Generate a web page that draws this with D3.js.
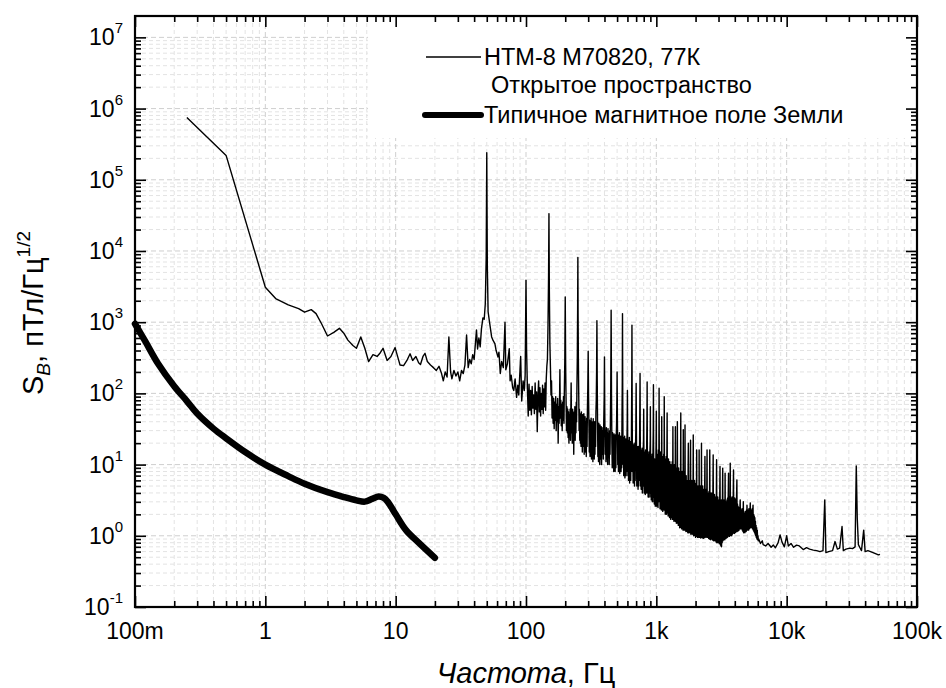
<!DOCTYPE html>
<html>
<head>
<meta charset="utf-8">
<title>Спектр шума НТМ-8</title>
<script src="https://cdn.jsdelivr.net/npm/d3@7"></script>
<style>
  body { margin: 0; background: #fff; }
  svg text { font-family: "Liberation Sans", Arial, sans-serif; fill: #000; }
</style>
</head>
<body>
<div id="chart"></div>
<script>
// --- data: [frequency Hz, S_B pT/Hz^1/2] ---
var htmLow = [
  [0.25, 7.5e5], [0.5, 2.2e5], [1.0, 3.1e3], [1.2, 2.15e3], [1.5, 1.75e3], [1.8, 1.55e3],
  [2.0, 1.38e3], [2.25, 1.5e3], [2.45, 1.32e3], [2.7, 950], [3.0, 640], [3.35, 720],
  [3.7, 820], [4.0, 700], [4.3, 560], [4.7, 470], [5.0, 430], [5.4, 620], [5.8, 430],
  [6.2, 280], [6.7, 350], [7.2, 330], [7.6, 370], [8.0, 430], [8.6, 290], [9.2, 330],
  [9.9, 440], [10.5, 300], [10.8, 250], [11.5, 245], [12.2, 290], [12.9, 360], [13.5, 290],
  [14.3, 330], [15.0, 270], [15.5, 255], [16.2, 330], [16.8, 365], [17.5, 280], [18.5, 250],
  [19.5, 230], [20.5, 210], [21.5, 240], [22.5, 190], [23.2, 150], [24.0, 200], [24.8, 170],
  [25.6, 620], [26.4, 200], [27.0, 160], [28.0, 210], [29.0, 175], [30.0, 200], [31.0, 150],
  [32.0, 210], [33.0, 190], [34.0, 250], [35.0, 660], [36.0, 230], [37.0, 300], [38.0, 260],
  [39.0, 350], [40.0, 300], [41.7, 780], [42.5, 420], [43.5, 600], [44.5, 450], [45.5, 800],
  [46.7, 1150], [47.8, 1100], [48.7, 1800], [49.5, 8000], [50.0, 2.4e5], [50.5, 6000],
  [51.2, 1400], [52.5, 1000], [54.5, 620], [56, 550], [57.7, 500], [59, 400], [61, 325],
  [62, 380], [63.5, 190], [65, 280], [67, 230], [69, 1000], [70, 215], [72, 260], [74.4, 425],
  [75.5, 150], [77, 180], [79, 120], [80.6, 110], [82.5, 160], [84.7, 88], [86.5, 130],
  [88, 95], [91, 330], [92.7, 78], [95, 150], [97, 110], [98.5, 180]
];

var htmMains = [
  [100, 3900], [101, 420], [102.5, 120], [104, 48], [105.5, 135], [107, 58], [108.5, 110],
  [110, 50], [111.5, 125], [113, 62], [114.5, 95], [116, 52], [117.5, 140], [119, 60],
  [120.5, 105], [122, 29], [123.5, 90], [125, 150], [126.5, 55], [128, 120], [129.5, 48],
  [131, 100], [132.5, 60], [134, 130], [135.5, 52], [137, 115], [138.5, 65], [140, 140],
  [141.5, 58], [143, 160], [144.5, 240], [146, 300], [147.5, 900], [149, 4500], [150, 33500],
  [151, 3000], [152.5, 500], [154, 230], [155.5, 95], [157, 150], [158.5, 45], [160, 90],
  [161.5, 38], [163, 85], [164.5, 32], [166, 75], [167.5, 42], [169, 90], [170.5, 30],
  [172, 70], [173.5, 40], [175, 85], [176.5, 20], [178, 65], [179.5, 38], [181, 90],
  [182, 215], [183.5, 45], [185, 80], [186.5, 35], [188, 70], [189.5, 30], [191, 75],
  [192.5, 42], [194, 90], [195.5, 38], [197, 120], [198.5, 280], [200, 2260], [201.5, 250],
  [203, 80], [204.5, 30], [206, 65], [207.5, 28], [209, 60], [210.5, 24], [212, 55],
  [213.5, 20], [215, 50], [216.5, 26], [218, 60], [219.5, 22], [221, 65], [222, 140],
  [223.5, 28], [225, 55], [226.5, 20], [228, 60], [229.5, 24], [231, 50], [232.5, 14],
  [234, 55], [235.5, 26], [237, 65], [238.5, 22], [240, 58], [241.5, 28], [243, 75],
  [244.5, 40], [246, 130], [247.5, 300], [249, 1500], [250, 8100], [251, 1200], [252.5, 250],
  [254, 90], [255.5, 30], [257, 60], [258.5, 22], [260, 52], [261.5, 20], [263, 48],
  [264.5, 18], [266, 55], [267.5, 22], [269, 45], [270.5, 15], [272, 50], [273.5, 20],
  [275, 46], [276.5, 18], [278, 52], [279.5, 14], [281, 42], [282.5, 18], [284, 47],
  [286, 15], [288, 40], [290, 13], [292, 45], [294, 18], [296, 60], [298, 120], [300, 390],
  [302, 90], [304, 35], [306, 15], [308, 42], [310, 13], [312, 38], [314, 17], [316, 45],
  [318, 12], [320, 40], [322, 16], [324, 35], [326, 11], [328, 44], [330, 15], [332, 36],
  [334, 12], [336, 40], [338, 14], [340, 38], [342, 18], [344, 55], [346, 80], [348, 200],
  [350, 1050], [352, 150], [354, 40], [356, 13], [358, 35], [360, 11], [362, 38], [364, 14],
  [366, 32], [368, 10], [370, 36], [372, 13], [374, 30], [376, 12], [378, 34], [380, 10],
  [383, 30], [386, 14], [389, 33], [392, 12], [395, 40], [398, 90], [400, 326], [402, 60],
  [405, 14], [408, 30], [411, 11], [414, 33], [417, 12], [420, 28], [423, 10], [426, 32],
  [429, 13], [432, 27], [435, 10], [438, 30], [441, 14], [444, 40], [447, 120], [450, 1470],
  [453, 90], [456, 20], [459, 9], [462, 28], [465, 10], [468, 25], [471, 8], [474, 27],
  [477, 10], [480, 22], [483, 8], [486, 26], [489, 9], [492, 24], [495, 35], [498, 80],
  [500, 200], [503, 40], [506, 10], [509, 26], [512, 8], [515, 24], [518, 9], [521, 28],
  [524, 7.5], [527, 22], [530, 9], [533, 25], [536, 8], [539, 22], [542, 9], [545, 40],
  [548, 150], [550, 1320], [553, 60], [556, 10], [559, 24], [562, 7], [565, 22], [568, 8],
  [571, 25], [574, 6.5], [577, 20], [580, 8], [583, 23], [586, 7], [589, 20], [592, 8],
  [595, 22], [598, 40], [600, 110], [603, 20], [606, 7], [609, 22], [612, 6], [615, 20],
  [618, 7], [621, 24], [624, 5.5], [627, 19], [630, 7], [633, 21], [636, 6], [639, 18],
  [642, 8], [645, 40], [648, 150], [650, 910], [653, 50], [656, 8], [660, 20], [664, 5.5],
  [668, 19], [672, 6], [676, 18], [680, 5], [684, 20], [688, 6], [692, 17], [696, 30],
  [700, 138], [704, 25], [708, 5], [712, 18], [716, 5.5], [720, 16], [724, 4.5], [728, 18],
  [732, 5], [736, 17], [740, 6], [744, 22], [747, 60], [750, 190], [753, 25], [757, 5],
  [761, 16], [765, 4.5], [769, 15], [773, 5], [777, 17], [781, 4], [785, 15], [789, 5],
  [793, 16], [797, 22], [800, 60], [803, 12], [807, 4], [811, 15], [815, 4.5], [819, 14],
  [823, 3.8], [827, 16], [831, 4.5], [835, 14], [839, 4], [843, 18], [847, 40], [850, 145],
  [853, 20], [857, 4], [861, 14], [865, 3.5], [869, 13], [873, 4], [877, 15], [881, 3.5],
  [885, 13], [889, 4], [893, 15], [897, 20], [900, 65], [903, 12], [907, 3.5], [911, 13],
  [915, 3.2], [919, 12], [923, 3.5], [927, 14], [931, 3], [935, 12], [939, 3.5], [943, 16],
  [947, 30], [950, 132], [953, 18], [957, 3], [961, 12], [965, 2.8], [969, 12], [973, 3],
  [977, 11], [981, 2.6], [985, 12], [989, 2.8], [993, 14], [996, 20]
];

var htmHigh = [
  [1000, 56], [1006, 2.6], [1012, 14], [1018, 3.2], [1024, 9], [1030, 2.5], [1036, 16],
  [1043, 3.0], [1050, 118], [1056, 3.5], [1062, 12], [1068, 2.4], [1074, 15], [1080, 2.8],
  [1087, 10], [1093, 2.3], [1100, 47], [1106, 2.6], [1113, 13], [1120, 2.2], [1127, 11],
  [1134, 2.5], [1140, 14], [1145, 2.3], [1150, 90], [1157, 2.4], [1163, 12], [1170, 2.0],
  [1177, 10], [1184, 2.3], [1190, 13], [1197, 2.0], [1203, 9], [1210, 53], [1217, 2.1],
  [1225, 11], [1232, 1.9], [1240, 12], [1248, 2.2], [1255, 9], [1263, 1.8], [1270, 11],
  [1277, 2.0], [1283, 8], [1290, 1.7], [1295, 10], [1300, 1.9], [1308, 9], [1316, 1.8],
  [1324, 11], [1332, 1.7], [1340, 34], [1348, 1.8], [1356, 9], [1364, 1.6], [1372, 10],
  [1380, 1.7], [1388, 8], [1395, 1.6], [1400, 34], [1408, 1.7], [1416, 9], [1424, 1.5],
  [1432, 8], [1440, 1.6], [1450, 40], [1458, 1.5], [1466, 8], [1474, 1.4], [1483, 9],
  [1492, 1.45], [1501, 7], [1510, 1.3], [1519, 8], [1528, 1.35], [1540, 53], [1548, 1.3],
  [1556, 7], [1565, 1.25], [1575, 8], [1584, 1.3], [1594, 6.5], [1603, 1.2], [1610, 31],
  [1618, 1.25], [1627, 7], [1636, 1.2], [1645, 8], [1652, 1.3], [1660, 36], [1668, 1.2],
  [1677, 6], [1686, 1.15], [1695, 7], [1704, 1.2], [1714, 5.5], [1724, 1.15], [1734, 6],
  [1744, 1.1], [1752, 7], [1760, 20], [1770, 1.1], [1780, 6], [1790, 1.15], [1800, 5],
  [1810, 1.1], [1820, 6.5], [1830, 22], [1840, 1.05], [1851, 5.5], [1862, 1.1], [1873, 6],
  [1884, 1.05], [1895, 5], [1907, 1.1], [1920, 26], [1930, 1.0], [1942, 5], [1953, 1.05],
  [1965, 6], [1977, 1.0], [1989, 4.5], [2001, 0.95], [2013, 5.5], [2025, 1.0], [2040, 16],
  [2050, 0.98], [2062, 4.5], [2074, 0.95], [2087, 5], [2099, 1.0], [2112, 4], [2124, 0.95],
  [2130, 16], [2140, 0.97], [2150, 4.5], [2163, 0.95], [2176, 5], [2189, 0.93], [2202, 4.2],
  [2210, 0.95], [2220, 20], [2230, 0.95], [2242, 4], [2255, 0.93], [2268, 5], [2282, 0.95],
  [2296, 4], [2310, 0.92], [2324, 4.5], [2338, 0.95], [2350, 5], [2360, 13], [2372, 1.0],
  [2385, 4], [2398, 0.95], [2412, 4.5], [2425, 0.97], [2438, 3.8], [2450, 16], [2462, 0.95],
  [2476, 4], [2490, 1.0], [2505, 3.6], [2520, 0.92], [2535, 4.2], [2550, 0.9], [2570, 16],
  [2585, 0.9], [2600, 3.8], [2615, 0.88], [2630, 4], [2645, 0.9], [2660, 3.5], [2675, 0.95],
  [2690, 4], [2705, 0.87], [2718, 5], [2730, 13.7], [2745, 0.85], [2760, 3.5], [2776, 0.87],
  [2792, 3.8], [2808, 0.85], [2824, 3.3], [2840, 0.88], [2856, 3.5], [2872, 0.82], [2888, 4],
  [2900, 11.7], [2916, 0.8], [2932, 3.2], [2948, 0.82], [2965, 3.5], [2982, 0.8], [3000, 3],
  [3016, 0.82], [3033, 3.2], [3050, 0.78], [3066, 3.5], [3080, 9.4], [3096, 0.75], [3113, 3],
  [3130, 0.72], [3148, 3.2], [3165, 0.7], [3183, 2.8], [3200, 0.8], [3215, 3.2], [3230, 8.9],
  [3247, 0.85], [3265, 3], [3283, 0.88], [3300, 3.2], [3318, 0.9], [3336, 2.8], [3354, 0.88],
  [3370, 7.6], [3388, 0.92], [3406, 3], [3424, 0.95], [3443, 2.8], [3462, 0.93], [3481, 3.2],
  [3500, 0.95], [3520, 3.4], [3540, 0.97], [3560, 3.5], [3580, 7.6], [3600, 1.0], [3620, 3.2],
  [3640, 0.98], [3660, 3.6], [3675, 1.0], [3690, 10.5], [3710, 1.02], [3730, 3.4], [3750, 1.05],
  [3770, 3.2], [3790, 1.0], [3810, 3.5], [3830, 1.05], [3850, 3.3], [3870, 1.08], [3890, 3.8],
  [3910, 8.4], [3930, 1.1], [3950, 3.2], [3972, 1.08], [3994, 3.4], [4016, 1.1], [4038, 3],
  [4060, 1.12], [4082, 3.3], [4104, 1.15], [4126, 3.5], [4150, 6.1], [4172, 1.15], [4195, 2.8],
  [4218, 1.2], [4240, 2.6], [4263, 1.18], [4286, 2.5], [4310, 1.2], [4334, 2.4], [4358, 1.25],
  [4380, 2.6], [4400, 3.2], [4424, 1.25], [4448, 2.3], [4472, 1.3], [4496, 2.2], [4520, 1.25],
  [4545, 2.4], [4570, 1.2], [4595, 2.2], [4620, 1.15], [4650, 3.0], [4675, 1.1], [4700, 2.1],
  [4727, 1.12], [4754, 2.0], [4781, 1.1], [4808, 2.2], [4835, 1.15], [4862, 2.1], [4890, 1.15],
  [4918, 2.3], [4940, 1.2], [4960, 2.7], [4988, 1.2], [5016, 2.2], [5045, 1.25], [5074, 2.3],
  [5103, 1.2], [5132, 2.4], [5162, 1.25], [5192, 2.3], [5222, 1.3], [5240, 2.5], [5260, 2.9],
  [5290, 1.3], [5320, 2.3], [5350, 1.35], [5380, 2.2], [5410, 1.3], [5440, 2.4], [5470, 1.25],
  [5500, 2.3], [5520, 2.7], [5550, 1.2], [5580, 2.0], [5610, 1.15], [5640, 1.9], [5670, 1.1],
  [5700, 1.8], [5730, 1.05], [5760, 1.6], [5790, 1.0], [5820, 1.4], [5850, 0.95], [5880, 1.3],
  [5910, 0.9], [5950, 1.2], [5990, 0.88], [6030, 1.0], [6060, 0.85]
];

var htmTail = [
  [6100, 0.9], [6300, 0.78], [6500, 0.85], [6600, 0.75], [6900, 0.72], [7200, 0.78],
  [7600, 0.69], [7900, 0.74], [8200, 0.68], [8600, 0.8], [8900, 1.03], [9200, 0.82],
  [9600, 0.7], [10000, 1.0], [10300, 0.72], [10800, 0.78], [11300, 0.69], [11900, 0.74],
  [12500, 0.72], [13400, 0.64], [14200, 0.68], [15000, 0.65], [16000, 0.63], [17000, 0.62],
  [18000, 0.6], [19000, 0.62], [19600, 3.2], [20000, 0.58], [21000, 0.6], [22500, 0.62],
  [23500, 0.83], [24500, 0.65], [25500, 0.67], [26600, 1.35], [27200, 0.62], [28500, 0.65],
  [30500, 0.67], [32000, 0.66], [33500, 0.7], [34200, 9.6], [34800, 1.77], [35500, 0.75],
  [36500, 0.68], [37500, 0.62], [39000, 1.2], [40000, 0.6], [42000, 0.62], [44000, 0.6],
  [47000, 0.57], [50600, 0.54], [52000, 0.55]
];

var earthField = [
  [0.1, 950], [0.12, 537], [0.15, 263], [0.2, 126], [0.25, 78], [0.3, 52], [0.4, 32],
  [0.5, 23.4], [0.7, 15], [1, 10], [1.5, 6.9], [2, 5.4], [3, 4.1], [4, 3.5], [5, 3.15],
  [5.8, 3.02], [6.6, 3.3], [7.4, 3.55], [8.1, 3.4], [8.7, 3.0], [10, 2.0], [12, 1.2],
  [15, 0.8], [20, 0.49]
];

var xTickValues = [0.1, 1, 10, 100, 1e3, 1e4, 1e5];
var xTickLabels = ["100m", "1", "10", "100", "1k", "10k", "100k"];
var yTickValues = [1e-1, 1e0, 1e1, 1e2, 1e3, 1e4, 1e5, 1e6, 1e7];
var yTickExps = ["-1", "0", "1", "2", "3", "4", "5", "6", "7"];

var legendNames = ["НТМ-8 М70820, 77К", "Открытое пространство", "Типичное магнитное поле Земли"];

var W = 946, H = 688;
var pL = 135, pR = 917, pT = 16, pB = 607;

var svg = d3.select("#chart").append("svg")
  .attr("width", W).attr("height", H);

var x = d3.scaleLog().domain([0.1, 1e5]).range([pL, pR]);
var y = d3.scaleLog().domain([0.1, Math.pow(10, 7.3)]).range([pB, pT]);

function isMajor(v) {
  var l = Math.log10(v);
  return Math.abs(l - Math.round(l)) < 1e-6;
}
var xAll = x.ticks(), yAll = y.ticks();
var xMinor = xAll.filter(v => !isMajor(v)), yMinor = yAll.filter(v => !isMajor(v));
var xMajor = xAll.filter(isMajor), yMajor = yAll.filter(isMajor);

// grid
var grid = svg.append("g");
grid.selectAll(".gxm").data(xMinor).enter().append("line")
  .attr("x1", d => x(d)).attr("x2", d => x(d)).attr("y1", pT).attr("y2", pB)
  .attr("stroke", "#e3e3e3").attr("stroke-dasharray", "4,3");
grid.selectAll(".gym").data(yMinor).enter().append("line")
  .attr("y1", d => y(d)).attr("y2", d => y(d)).attr("x1", pL).attr("x2", pR)
  .attr("stroke", "#e3e3e3").attr("stroke-dasharray", "4,3");
grid.selectAll(".gxM").data(xMajor).enter().append("line")
  .attr("x1", d => x(d)).attr("x2", d => x(d)).attr("y1", pT).attr("y2", pB)
  .attr("stroke", "#cfcfcf").attr("stroke-dasharray", "5,3");
grid.selectAll(".gyM").data(yMajor).enter().append("line")
  .attr("y1", d => y(d)).attr("y2", d => y(d)).attr("x1", pL).attr("x2", pR)
  .attr("stroke", "#cfcfcf").attr("stroke-dasharray", "5,3");

// legend background hides the grid
svg.append("rect").attr("x", 368).attr("y", pT).attr("width", pR - 368).attr("height", 122)
  .attr("fill", "#fff");

// data
var thin = htmLow.concat(htmMains, htmHigh, htmTail);
var line = d3.line().x(d => x(d[0])).y(d => y(d[1]));
svg.append("path").datum(thin).attr("d", line)
  .attr("fill", "none").attr("stroke", "#000").attr("stroke-width", 1.4)
  .attr("stroke-linejoin", "round");

var smooth = d3.line().x(d => x(d[0])).y(d => y(d[1])).curve(d3.curveCatmullRom.alpha(0.5));
svg.append("path").datum(earthField).attr("d", smooth)
  .attr("fill", "none").attr("stroke", "#000").attr("stroke-width", 6.5)
  .attr("stroke-linecap", "round").attr("stroke-linejoin", "round");

// axes: ticks point inward on all four sides
function tickAxis(axis, tr, vals, size) {
  var g = svg.append("g").attr("transform", tr)
    .call(axis.tickValues(vals).tickSizeInner(size).tickSizeOuter(0).tickFormat(""));
  g.select(".domain").remove();
  g.selectAll(".tick line").attr("stroke", "#000").attr("stroke-width", 1.6);
}
tickAxis(d3.axisBottom(x), "translate(0," + pB + ")", xMinor, -6);
tickAxis(d3.axisBottom(x), "translate(0," + pB + ")", xMajor, -11);
tickAxis(d3.axisTop(x), "translate(0," + pT + ")", xMinor, -6);
tickAxis(d3.axisTop(x), "translate(0," + pT + ")", xMajor, -11);
tickAxis(d3.axisLeft(y), "translate(" + pL + ",0)", yMinor, -6);
tickAxis(d3.axisLeft(y), "translate(" + pL + ",0)", yMajor, -11);
tickAxis(d3.axisRight(y), "translate(" + pR + ",0)", yMinor, -6);
tickAxis(d3.axisRight(y), "translate(" + pR + ",0)", yMajor, -11);

svg.append("rect").attr("x", pL).attr("y", pT)
  .attr("width", pR - pL).attr("height", pB - pT)
  .attr("fill", "none").attr("stroke", "#000").attr("stroke-width", 2.2);

// tick labels
svg.selectAll(".xl").data(xTickValues).enter().append("text")
  .attr("x", d => x(d)).attr("y", 639)
  .attr("text-anchor", "middle").attr("font-size", 23)
  .text((d, i) => xTickLabels[i]);

var yl = svg.selectAll(".yl").data(yTickValues).enter().append("text")
  .attr("x", 123).attr("y", d => y(d) + 8)
  .attr("text-anchor", "end").attr("font-size", 23);
yl.append("tspan").text("10");
yl.append("tspan").attr("dy", -12).attr("font-size", 15).text((d, i) => yTickExps[i]);

// axis titles
var xt = svg.append("text").attr("x", 526).attr("y", 683)
  .attr("text-anchor", "middle").attr("font-size", 29);
xt.append("tspan").attr("font-style", "italic").text("Частота");
xt.append("tspan").text(", Гц");

var yt = svg.append("text").attr("transform", "translate(43,313) rotate(-90)")
  .attr("text-anchor", "middle").attr("font-size", 29);
yt.append("tspan").text("S");
yt.append("tspan").attr("font-size", 19).attr("font-style", "italic").attr("dy", 7).text("B");
yt.append("tspan").attr("dy", -7).text(", пТл/Гц");
yt.append("tspan").attr("font-size", 19).attr("dy", -13).text("1/2");

// legend
var lg = svg.append("g");
lg.append("line").attr("x1", 426).attr("x2", 481).attr("y1", 57).attr("y2", 57)
  .attr("stroke", "#000").attr("stroke-width", 1.3);
lg.append("text").attr("x", 484).attr("y", 57).attr("dy", "0.36em")
  .attr("font-size", 23.5).text(legendNames[0]);
lg.append("text").attr("x", 491).attr("y", 85).attr("dy", "0.36em")
  .attr("font-size", 23.5).text(legendNames[1]);
lg.append("line").attr("x1", 425).attr("x2", 481).attr("y1", 115).attr("y2", 115)
  .attr("stroke", "#000").attr("stroke-width", 6).attr("stroke-linecap", "round");
lg.append("text").attr("x", 484).attr("y", 115).attr("dy", "0.36em")
  .attr("font-size", 23.5).text(legendNames[2]);
</script>
</body>
</html>
